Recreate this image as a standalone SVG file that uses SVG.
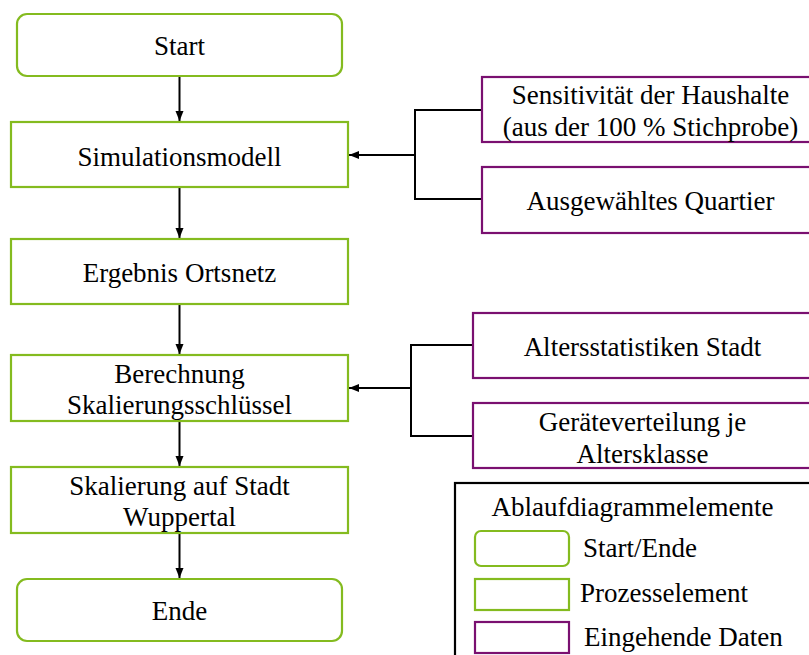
<svg xmlns="http://www.w3.org/2000/svg" width="809" height="655" viewBox="0 0 809 655">
  <defs>
    <marker id="arrow" viewBox="0 0 10 10" refX="10" refY="5" markerWidth="10" markerHeight="10" markerUnits="userSpaceOnUse" orient="auto">
      <path d="M0,1 L10,5 L0,9 Z" fill="#000"/>
    </marker>
    <style>
      text { font-family: "Liberation Serif", "Times New Roman", serif; font-size: 27px; fill: #000; }
      .mid { text-anchor: middle; }
      .term { fill: #fff; stroke: #84bb1f; stroke-width: 2.2; }
      .proc { fill: #fff; stroke: #84bb1f; stroke-width: 2.2; }
      .data { fill: #fff; stroke: #7a1070; stroke-width: 2.2; }
      .legend { fill: #fff; stroke: #000; stroke-width: 2.2; }
      .conn { fill: none; stroke: #000; stroke-width: 2; }
    </style>
  </defs>

  <rect width="809" height="655" fill="#fff"/>

  <!-- connectors -->
  <g id="connectors">
    <line class="conn" x1="179.5" y1="76" x2="179.5" y2="121" marker-end="url(#arrow)"/>
    <line class="conn" x1="179.5" y1="188" x2="179.5" y2="238" marker-end="url(#arrow)"/>
    <line class="conn" x1="179.5" y1="305" x2="179.5" y2="354" marker-end="url(#arrow)"/>
    <line class="conn" x1="179.5" y1="422" x2="179.5" y2="466" marker-end="url(#arrow)"/>
    <line class="conn" x1="179.5" y1="534" x2="179.5" y2="578" marker-end="url(#arrow)"/>
    <path class="conn" d="M482,110 H415 V199 H482"/>
    <line class="conn" x1="415" y1="155" x2="349" y2="155" marker-end="url(#arrow)"/>
    <path class="conn" d="M473,345 H411 V436 H473"/>
    <line class="conn" x1="411" y1="388" x2="349" y2="388" marker-end="url(#arrow)"/>
  </g>

  <!-- process flow -->
  <g id="start">
    <rect class="term" x="17" y="14" width="325" height="62" rx="10"/>
    <text class="mid" x="179.5" y="55">Start</text>
  </g>
  <g id="simulationsmodell">
    <rect class="proc" x="11" y="122" width="337" height="65"/>
    <text class="mid" x="179.5" y="166">Simulationsmodell</text>
  </g>
  <g id="ergebnis-ortsnetz">
    <rect class="proc" x="11" y="239" width="337" height="65"/>
    <text class="mid" x="179.5" y="282">Ergebnis Ortsnetz</text>
  </g>
  <g id="berechnung">
    <rect class="proc" x="11" y="355" width="337" height="66"/>
    <text class="mid" x="179.5" y="383">Berechnung</text>
    <text class="mid" x="179.5" y="414">Skalierungsschlüssel</text>
  </g>
  <g id="skalierung">
    <rect class="proc" x="11" y="467" width="337" height="66"/>
    <text class="mid" x="179.5" y="495">Skalierung auf Stadt</text>
    <text class="mid" x="179.5" y="526">Wuppertal</text>
  </g>
  <g id="ende">
    <rect class="term" x="17" y="579" width="325" height="62" rx="10"/>
    <text class="mid" x="179.5" y="620">Ende</text>
  </g>

  <!-- incoming data -->
  <g id="sensitivitaet">
    <rect class="data" x="482" y="77" width="340" height="65"/>
    <text class="mid" x="650.5" y="104">Sensitivität der Haushalte</text>
    <text class="mid" x="650.5" y="136">(aus der 100 % Stichprobe)</text>
  </g>
  <g id="quartier">
    <rect class="data" x="482" y="167" width="340" height="66"/>
    <text class="mid" x="650.5" y="210">Ausgewähltes Quartier</text>
  </g>
  <g id="altersstatistiken">
    <rect class="data" x="473" y="313" width="340" height="65"/>
    <text class="mid" x="642.5" y="356">Altersstatistiken Stadt</text>
  </g>
  <g id="geraeteverteilung">
    <rect class="data" x="473" y="403" width="340" height="65"/>
    <text class="mid" x="642.5" y="431">Geräteverteilung je</text>
    <text class="mid" x="642.5" y="463">Altersklasse</text>
  </g>

  <!-- legend -->
  <g id="legende">
    <rect class="legend" x="455" y="483" width="370" height="190"/>
    <text class="mid" x="632.5" y="516">Ablaufdiagrammelemente</text>
    <rect class="term" x="475" y="531" width="94" height="35" rx="6"/>
    <text x="583" y="557">Start/Ende</text>
    <rect class="proc" x="475" y="579" width="94" height="31"/>
    <text x="580" y="602">Prozesselement</text>
    <rect class="data" x="475" y="622" width="94" height="31"/>
    <text x="584" y="646">Eingehende Daten</text>
  </g>
</svg>
